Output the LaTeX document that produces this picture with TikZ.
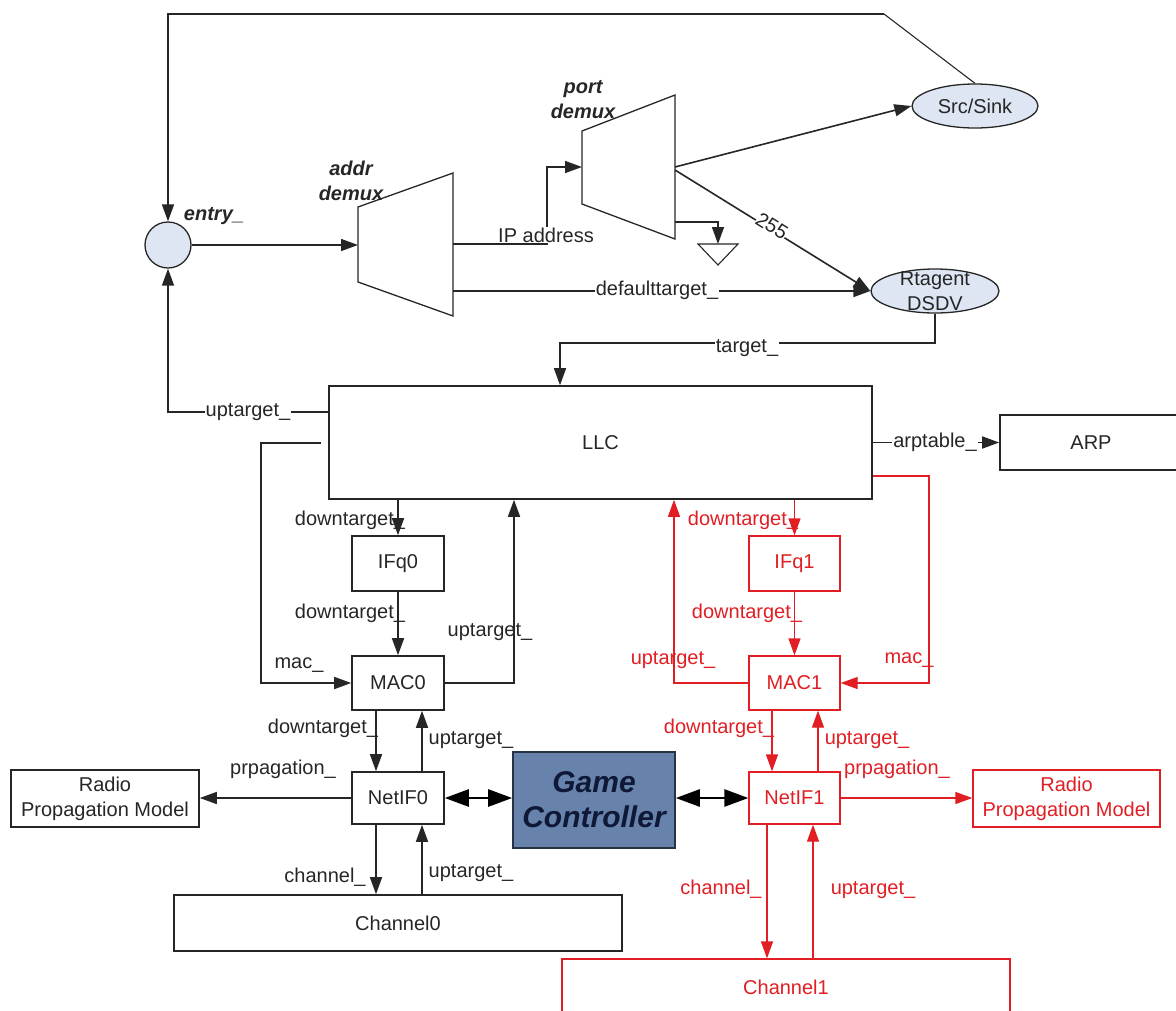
\documentclass[tikz,border=0pt]{standalone}
\usepackage{fontspec}
\setmainfont{Liberation Sans}
\usetikzlibrary{arrows.meta,shapes.geometric,calc}
\definecolor{rred}{RGB}{225,30,35}
\definecolor{ellfill}{RGB}{222,230,243}
\definecolor{gcfill}{RGB}{103,131,172}
\definecolor{gctext}{RGB}{15,25,55}
\definecolor{gcdraw}{RGB}{40,50,70}
\newcommand\dlbl{\fontsize{20}{25}\selectfont}
\newcommand\dgc{\fontsize{30}{35}\selectfont\bfseries\itshape}
\begin{document}
\begin{tikzpicture}[x=1pt,y=-1pt,
 ln/.style={line width=1.6pt, draw=black!85},
 thinln/.style={line width=1.1pt, draw=black!85},
 arr/.style={ln, -{Triangle[length=17pt,width=12pt]}},
 rln/.style={line width=1.3pt, draw=rred},
 rarr/.style={rln, -{Triangle[length=17pt,width=12pt]}},
 box/.style={draw=black!85, line width=1.6pt, fill=white, inner sep=0pt, align=center, font=\dlbl, text=black!85},
 rbox/.style={box, draw=rred, line width=1.3pt, text=rred},
 ell/.style={ellipse, draw=black!85, line width=1.3pt, fill=ellfill, inner sep=0pt},
 lab/.style={font=\dlbl, inner sep=1pt, text=black!85, align=center},
 rlab/.style={lab, text=rred},
 onl/.style={lab, fill=white},
 bil/.style={lab, font=\dlbl\bfseries\itshape},
 bi/.style={line width=2.6pt, draw=black, {Triangle[length=24pt,width=17pt]}-{Triangle[length=24pt,width=17pt]}},
]
\useasboundingbox (0,0) rectangle (1176,1010);
\clip (0,0) rectangle (1176,1010);

% ---------- nodes ----------
\node[circle, draw=black!85, line width=1.3pt, fill=ellfill, minimum size=46pt, inner sep=0pt] (entry) at (168,245) {};
\node[ell, minimum width=126pt, minimum height=44pt] (SrcSink) at (975,106) {};
\node[lab] (tSrc) at (975,106) {Src/Sink};
\node[ell, minimum width=128pt, minimum height=44pt] (Rtag) at (935,291) {};
\node[lab] (tRt) at (935,291) {Rtagent\\DSDV};

\node[box, minimum width=543pt, minimum height=113pt] (LLC) at (600.5,442.5) {LLC};
\node[box, minimum width=182pt, minimum height=55pt] (ARP) at (1091,442.5) {ARP};

\node[box, minimum width=92pt, minimum height=55pt] (IFq0) at (398,563.5) {IFq0};
\node[box, minimum width=92pt, minimum height=54pt] (MAC0) at (398,683) {MAC0};
\node[box, minimum width=92pt, minimum height=52pt] (NetIF0) at (398,798) {NetIF0};
\node[box, minimum width=188pt, minimum height=57pt] (Radio0) at (105,798.5) {Radio\\Propagation Model};
\node[box, minimum width=448pt, minimum height=56pt] (Ch0) at (398,923) {Channel0};

\node[rbox, minimum width=91pt, minimum height=55pt] (IFq1) at (794.5,563.5) {IFq1};
\node[rbox, minimum width=91pt, minimum height=54pt] (MAC1) at (794.5,683) {MAC1};
\node[rbox, minimum width=91pt, minimum height=52pt] (NetIF1) at (794.5,798) {NetIF1};
\node[rbox, minimum width=187pt, minimum height=57pt] (Radio1) at (1066.5,798.5) {Radio\\Propagation Model};
\node[rbox, minimum width=448pt, minimum height=56pt] (Ch1) at (786,987) {Channel1};

\node[draw=gcdraw, line width=1.6pt, fill=gcfill, minimum width=162pt, minimum height=96pt, inner sep=0pt,
      font=\dgc, text=gctext, align=center] (GC) at (594,800) {Game\\Controller};

% ---------- demux trapezoids ----------
\coordinate (a1) at (358,207); \coordinate (a2) at (453,173);
\coordinate (a3) at (453,316); \coordinate (a4) at (358,282);
\draw[ln, line width=1.3pt] (a1) -- (a2) -- (a3) -- (a4) -- cycle;
\coordinate (p1) at (582,131); \coordinate (p2) at (675,95);
\coordinate (p3) at (675,239); \coordinate (p4) at (582,204);
\draw[ln, line width=1.3pt] (p1) -- (p2) -- (p3) -- (p4) -- cycle;
\node[bil] (lAddr) at (351,181) {addr\\demux};
\node[bil] (lPort) at (583,100) {port\\demux};
\node[bil] (lEntry) at (214,216) {entry\_};

% ground symbol
\coordinate (gnd) at (718,244);
\draw[thinln] (698,244) -- (738,244) -- (718,265) -- cycle;

% ---------- black connectors ----------
\coordinate (tl) at (884,14);
\draw[thinln] (SrcSink.north) -- (tl);
\draw[arr] (tl) -- (entry.north |- tl) -- (entry.north);
\draw[arr] (entry.east) -- (entry.east -| a1);

\coordinate (ipO) at (453,244);
\coordinate (pIn) at (582,167);
\draw[arr] (ipO) -| ([xshift=-35pt]pIn) -- (pIn);
\coordinate (pOut) at (675,167);
\draw[arr] (pOut) -- (SrcSink.west);
\coordinate (pOut2) at (675,170);
\draw[arr] (pOut2) -- (Rtag.west);
\coordinate (pG) at (675,222);
\draw[arr] (pG) -| (gnd);
\coordinate (dfO) at (453,291);
\draw[arr] (dfO) -- (Rtag.west);

\coordinate (tgc) at (560,343);
\draw[arr] (Rtag.south) |- (tgc) -- (LLC.north -| tgc);

\coordinate (y412) at (0,412);
\draw[arr] (LLC.west |- y412) -| (entry.south);
\coordinate (macS) at (321,443); \coordinate (macC) at (261,443);
\draw[arr] (macS) -- (macC) |- (MAC0.west);

\draw[arr] (IFq0.north |- LLC.south) -- (IFq0.north);
\draw[arr] (IFq0.south) -- (MAC0.north);
\coordinate (x514) at (514,0);
\draw[arr] (MAC0.east) -| (LLC.south -| x514);
\draw[arr] ([xshift=-22pt]MAC0.south) -- ([xshift=-22pt]NetIF0.north);
\draw[arr] ([xshift=24pt]NetIF0.north) -- ([xshift=24pt]MAC0.south);
\draw[arr] (NetIF0.west) -- (Radio0.east |- NetIF0.west);
\draw[arr] ([xshift=-22pt]NetIF0.south) -- ([xshift=-22pt]Ch0.north);
\draw[arr] ([xshift=24pt]Ch0.north) -- ([xshift=24pt]NetIF0.south);
\draw[bi] (NetIF0.east) -- (GC.west |- NetIF0.east);
\draw[bi] (GC.east |- NetIF1.west) -- (NetIF1.west);
\draw[arr] (LLC.east |- ARP.west) -- (ARP.west);

% ---------- red connectors ----------
\draw[rarr] (IFq1.north |- LLC.south) -- (IFq1.north);
\draw[rarr] (IFq1.south) -- (MAC1.north);
\coordinate (x674) at (674,0);
\draw[rarr] (MAC1.west) -| (LLC.south -| x674);
\coordinate (y476) at (0,476); \coordinate (x929) at (929,0);
\draw[rarr] (LLC.east |- y476) -| (x929 |- MAC1.east) -- (MAC1.east);
\draw[rarr] ([xshift=-22.5pt]MAC1.south) -- ([xshift=-22.5pt]NetIF1.north);
\draw[rarr] ([xshift=23.5pt]NetIF1.north) -- ([xshift=23.5pt]MAC1.south);
\draw[rarr] (NetIF1.east) -- (Radio1.west |- NetIF1.east);
\draw[rarr] ([xshift=-27.5pt]NetIF1.south) -- ([xshift=-19pt]Ch1.north);
\draw[rarr] ([xshift=27pt]Ch1.north) -- ([xshift=18.5pt]NetIF1.south);

% ---------- labels on lines ----------
\node[onl] (lIP) at (546,235) {IP address};
\node[onl] (lDef) at (657,290) {defaulttarget\_};
\node[onl, rotate=-32, inner sep=0pt] (l255) at (772,226) {255};
\node[onl] (lTgt) at (747,348) {target\_};
\node[onl] (lUp) at (248,412) {uptarget\_};
\node[onl] (lArp) at (935,442) {arptable\_};

% ---------- black labels ----------
\node[lab] at (350,520) {downtarget\_};
\node[lab] at (350,613) {downtarget\_};
\node[lab] at (490,632) {uptarget\_};
\node[lab] at (299,665) {mac\_};
\node[lab] at (323,728) {downtarget\_};
\node[lab] at (471,740) {uptarget\_};
\node[lab] at (283,769) {prpagation\_};
\node[lab] at (325,877) {channel\_};
\node[lab] at (471,873) {uptarget\_};

% ---------- red labels ----------
\node[rlab] at (743,520) {downtarget\_};
\node[rlab] at (747,613) {downtarget\_};
\node[rlab] at (673,660) {uptarget\_};
\node[rlab] at (909,660) {mac\_};
\node[rlab] at (719,728) {downtarget\_};
\node[rlab] at (867,740) {uptarget\_};
\node[rlab] at (897,769) {prpagation\_};
\node[rlab] at (721,889) {channel\_};
\node[rlab] at (873,890) {uptarget\_};
\end{tikzpicture}
\end{document}
